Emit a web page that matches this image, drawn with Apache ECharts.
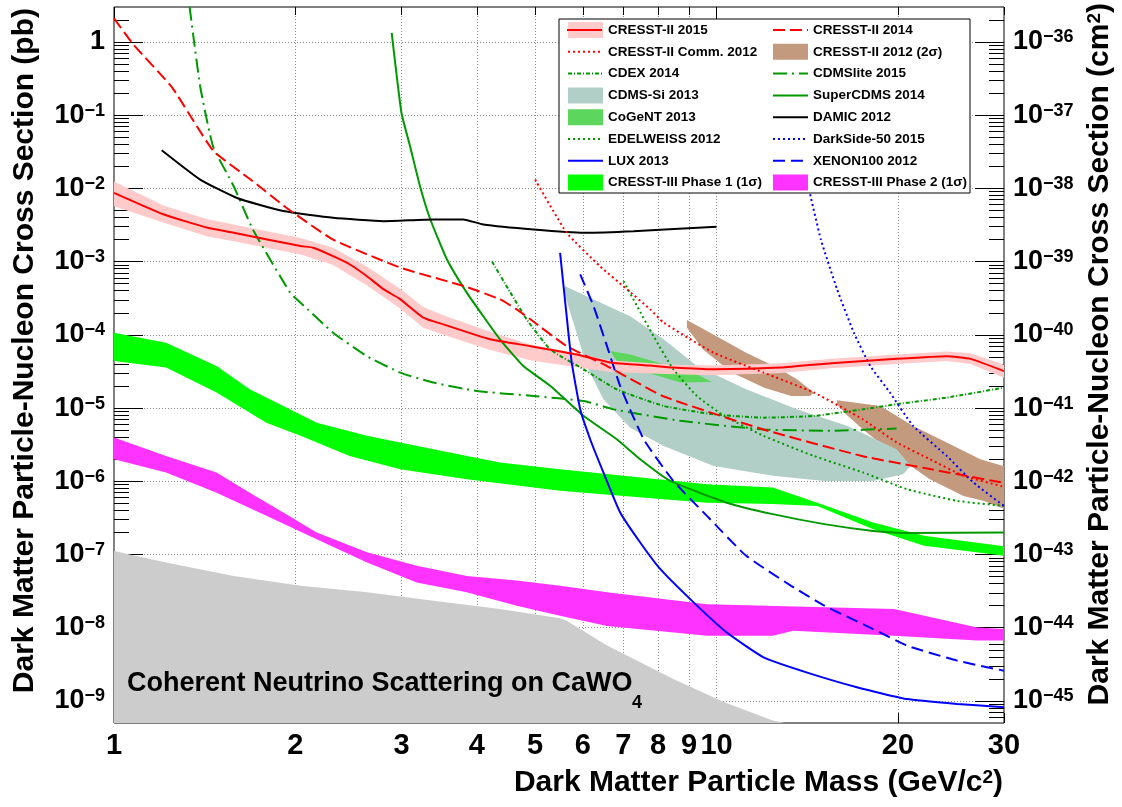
<!DOCTYPE html>
<html><head><meta charset="utf-8">
<script src="https://cdn.jsdelivr.net/npm/echarts/dist/echarts.min.js"></script>
<style>html,body{margin:0;padding:0;background:#fff}#c{width:1122px;height:807px}</style>
</head><body><div id="c"></div>
<script>
// ---------------- tick labels ----------------
const xTickVals = [1, 2, 3, 4, 5, 6, 7, 8, 9, 10, 20, 30];
const xLongTickVals = [1, 10];
const yDecadeExps = [-9, -8, -7, -6, -5, -4, -3, -2, -1, 0];
const yMinorExps = [-10, -9, -8, -7, -6, -5, -4, -3, -2, -1, 0];
const yMinorMantissas = [2, 3, 4, 5, 6, 7, 8, 9];
const pbToCm2Exp = 36;

// ---------------- data (mass GeV/c^2, cross-section pb) ----------------
const cresst2015 = [[1,8.7e-3],[1.21,4.4e-3],[1.43,2.9e-3],[1.58,2.48e-3],[2.04,1.63e-3],[2.14,1.55e-3],[2.31,1.19e-3],[2.46,9.2e-4],[2.63,6.3e-4],[2.80,4.2e-4],[2.98,3.1e-4],[3.26,1.72e-4],[3.52,1.39e-4],[4.21,8.7e-5],[4.91,7.0e-5],[5.86,5.4e-5],[6.66,4.2e-5],[7.76,3.8e-5],[8.48,3.57e-5],[9.9,3.38e-5],[12.8,3.57e-5],[15.5,4.1e-5],[19.9,4.7e-5],[24.1,5.1e-5],[26.4,4.7e-5],[30,3.2e-5]];
const cresst2015Hi = [[1,1.24e-2],[1.21,5.8e-3],[1.43,3.8e-3],[1.58,3.2e-3],[2.04,2.1e-3],[2.31,1.55e-3],[2.63,8.5e-4],[2.98,4.3e-4],[3.26,2.4e-4],[3.52,1.85e-4],[4.21,1.1e-4],[4.91,7.4e-5],[5.86,5.6e-5],[6.66,4.5e-5],[8.48,3.9e-5],[9.9,3.8e-5],[12.8,4.1e-5],[15.5,4.7e-5],[19.9,5.4e-5],[24.1,5.9e-5],[26.4,5.6e-5],[30,3.9e-5]];
const cresst2015Lo = [[1,5.7e-3],[1.21,3.4e-3],[1.43,2.2e-3],[1.58,1.9e-3],[2.04,1.25e-3],[2.31,9.0e-4],[2.63,4.7e-4],[2.98,2.3e-4],[3.26,1.25e-4],[3.52,1.0e-4],[4.21,6.2e-5],[4.91,4.5e-5],[5.86,3.6e-5],[6.66,3.1e-5],[8.48,2.9e-5],[9.9,2.8e-5],[12.8,3.0e-5],[15.5,3.5e-5],[19.9,4.0e-5],[24.1,4.4e-5],[26.4,4.0e-5],[30,2.6e-5]];
const cresst2014 = [[1,2.1],[1.077,0.92],[1.25,0.236],[1.46,0.033],[1.70,0.0125],[1.935,5.4e-3],[2.31,2.0e-3],[2.985,8.3e-4],[3.85,4.5e-4],[4.37,3.05e-4],[4.66,2.23e-4],[4.91,1.63e-4],[5.64,7.0e-5],[6.58,3.75e-5],[8.16,1.45e-5],[11.96,5.1e-6],[17.5,2.2e-6],[22.6,1.47e-6],[30,9.5e-7]];
const cresstComm2012 = [[5.0,1.32e-2],[5.64,2.48e-3],[6.41,8.6e-4],[7.05,4.4e-4],[7.76,2.23e-4],[8.17,1.47e-4],[9.89,5.7e-5],[11.97,3.05e-5],[14.5,1.63e-5],[17.5,7.0e-6],[19.9,3.4e-6],[22.6,2.0e-6],[25.7,1.19e-6],[30,8.4e-7]];
const cresst2012a = [[8.93,1.59e-4],[10.0,9.6e-5],[11.2,5.7e-5],[12.6,3.57e-5],[13.6,2.47e-5],[14.5,1.63e-5],[14.3,1.46e-5],[13.3,1.46e-5],[12.0,1.9e-5],[10.6,3.05e-5],[9.5,6.3e-5],[8.93,1.25e-4]];
const cresst2012b = [[15.85,1.28e-5],[18.7,1.07e-5],[21.2,5.7e-6],[24.1,3.38e-6],[27.4,2.0e-6],[30,1.6e-6],[30,4.2e-7],[27.8,5.4e-7],[25.7,6.3e-7],[22.6,1.07e-6],[19.9,2.2e-6],[17.5,5.1e-6],[16.4,8.2e-6],[15.85,1.13e-5]];
const cdex2014 = [[4.24,1.0e-3],[4.55,3.77e-4],[4.84,1.63e-4],[5.30,6.3e-5],[6.02,3.38e-5],[6.83,1.8e-5],[8.17,1.07e-5],[9.89,8.2e-6],[11.97,7.4e-6],[14.5,7.8e-6],[17.5,9.6e-6],[19.9,1.13e-5],[24.1,1.39e-5],[30,1.9e-5]];
const cdmslite2015 = [[1.335,3.0],[1.39,0.248],[1.46,3.77e-2],[1.58,1.07e-2],[1.70,2.75e-3],[1.96,3.77e-4],[2.04,2.75e-4],[2.31,1.07e-4],[2.63,5.1e-5],[2.985,3.05e-5],[3.39,2.23e-5],[4.00,1.71e-5],[4.97,1.46e-5],[6.02,1.25e-5],[6.75,9.6e-6],[8.71,6.7e-6],[11.97,5.1e-6],[15.45,4.9e-6],[19.9,5.25e-6]];
const cdmsSi2013 = [[5.61,4.6e-4],[6.33,2.9e-4],[7.19,1.8e-4],[8.17,8.7e-5],[9.28,3.75e-5],[11.2,1.8e-5],[13.6,9.6e-6],[16.5,5.7e-6],[19.9,2.74e-6],[21.0,1.62e-6],[20.4,1.25e-6],[18.2,1.01e-6],[15.1,1.01e-6],[12.4,1.19e-6],[9.89,1.62e-6],[8.17,3.04e-6],[7.19,5.4e-6],[6.49,1.32e-5],[6.09,3.75e-5],[5.72,2.0e-4],[5.57,4.2e-4]];
const superCdms2014 = [[2.89,1.33],[3.00,0.107],[3.10,0.0377],[3.22,0.0107],[3.35,3.76e-3],[3.57,1.07e-3],[3.85,3.77e-4],[4.10,1.8e-4],[4.37,8.7e-5],[4.78,3.75e-5],[5.30,2.0e-5],[6.02,7.8e-6],[6.83,3.75e-6],[7.47,2.0e-6],[8.38,1.01e-6],[10.4,5.1e-7],[12.4,3.56e-7],[15.1,2.6e-7],[18.2,2.1e-7],[20.7,1.96e-7],[30,2.0e-7]];
const cogent2013 = [[6.66,6.0e-5],[7.19,5.4e-5],[8.17,3.95e-5],[9.28,2.89e-5],[9.83,2.27e-5],[8.71,2.23e-5],[7.66,3.05e-5],[6.83,4.4e-5]];
const damic2012 = [[1.20,3.32e-2],[1.39,1.32e-2],[1.60,7.4e-3],[1.91,4.9e-3],[2.31,3.97e-3],[2.80,3.57e-3],[3.39,3.77e-3],[3.80,3.77e-3],[4.10,3.22e-3],[4.97,2.75e-3],[6.02,2.48e-3],[7.28,2.6e-3],[10.0,3.0e-3]];
const edelweiss2012 = [[7.01,5.4e-4],[7.38,2.47e-4],[7.86,9.6e-5],[8.48,3.38e-5],[9.28,1.46e-5],[10.3,7.8e-6],[11.97,4.17e-6],[14.5,2.22e-6],[17.5,1.32e-6],[20.7,7.8e-7],[25.1,5.4e-7],[30,4.6e-7]];
const darkside2015 = [[14.3,8.3e-3],[14.9,2.0e-3],[15.85,4.2e-4],[16.9,1.07e-4],[18.0,3.75e-5],[19.4,1.63e-5],[21.2,5.7e-6],[24.1,2.22e-6],[26.7,9.6e-7],[30,4.6e-7]];
const lux2013 = [[5.50,1.32e-3],[5.64,1.8e-4],[5.75,4.2e-5],[5.94,9.6e-6],[6.17,3.75e-6],[6.49,1.32e-6],[6.92,3.75e-7],[7.47,1.46e-7],[8.07,6.3e-8],[9.16,2.22e-8],[10.4,8.6e-9],[11.97,3.94e-9],[14.1,2.46e-9],[17.1,1.54e-9],[20.7,1.06e-9],[25.1,9.1e-10],[30,8.2e-10]];
const xenon2012 = [[5.94,6.7e-4],[6.25,2.47e-4],[6.58,7.0e-5],[6.92,2.0e-5],[7.57,3.75e-6],[8.48,1.01e-6],[9.64,3.37e-7],[11.2,9.6e-8],[13.3,3.74e-8],[15.1,2.0e-8],[18.2,9.6e-9],[20.7,5.7e-9],[25.1,3.55e-9],[30,2.59e-9]];
const phase1Hi = [[1,1.07e-4],[1.22,7.8e-5],[1.48,3.75e-5],[1.68,1.8e-5],[1.91,1.07e-5],[2.17,6.3e-6],[2.63,4.17e-6],[3.39,2.74e-6],[4.37,1.8e-6],[5.50,1.46e-6],[7.01,1.19e-6],[9.64,9.1e-7],[12.4,8.2e-7],[14.7,5.1e-7],[18.2,2.74e-7],[22.1,1.8e-7],[30,1.3e-7]];
const phase1Lo = [[1,4.4e-5],[1.22,3.57e-5],[1.48,1.63e-5],[1.79,6.3e-6],[2.04,4.17e-6],[2.46,2.22e-6],[2.985,1.46e-6],[3.85,1.07e-6],[5.50,7.4e-7],[7.01,6.3e-7],[9.64,5.1e-7],[12.4,4.9e-7],[14.7,4.6e-7],[18.2,2.22e-7],[22.1,1.32e-7],[30,9.6e-8]];
const phase2Hi = [[1,3.96e-6],[1.22,2.22e-6],[1.48,1.32e-6],[1.68,7.0e-7],[1.91,3.75e-7],[2.17,2.0e-7],[2.63,1.07e-7],[3.18,7.0e-8],[3.85,5.1e-8],[4.66,4.4e-8],[5.50,3.74e-8],[6.58,3.04e-8],[9.64,2.1e-8],[19.7,1.8e-8],[27.1,1.01e-8],[30,9.6e-9]];
const phase2Lo = [[1,2.0e-6],[1.22,1.32e-6],[1.48,7.0e-7],[1.79,3.37e-7],[2.17,1.62e-7],[2.63,7.8e-8],[3.18,4.16e-8],[3.85,3.04e-8],[4.66,2.0e-8],[5.50,1.46e-8],[6.58,1.06e-8],[9.64,7.8e-9],[12.4,7.8e-9],[13.4,9.1e-9],[19.7,7.8e-9],[27.1,6.7e-9],[30,6.7e-9]];
const neutrinoFloor = [[1,1.12e-7],[1.22,7.8e-8],[1.58,5.1e-8],[2.04,3.74e-8],[2.63,3.04e-8],[3.39,2.33e-8],[4.37,1.8e-8],[5.50,1.35e-8],[5.64,1.25e-8],[6.58,5.7e-9],[8.48,2.0e-9],[10.3,9.6e-10],[12.4,5.4e-10],[13.0,5e-10],[1,5e-10]];

// ---------------- build ----------------
const FONT = "'Liberation Sans', Arial, Helvetica, sans-serif";
const yMajor = yDecadeExps.map(e => Math.pow(10, e));
const yMinor = [];
yMinorExps.forEach(e => yMinorMantissas.forEach(m => {
  const v = m * Math.pow(10, e);
  if (v > 5.01e-10 && v < 2.99) yMinor.push(v);
}));
const Y_MIN = 5e-10, Y_MAX = 3, X_MIN = 1, X_MAX = 30;

function polygon(name, pts, color) {
  return {
    type: 'custom', name, coordinateSystem: 'cartesian2d', xAxisIndex: 0, yAxisIndex: 0,
    data: pts, silent: true, clip: true, itemStyle: { color },
    encode: { x: 0, y: 1 },
    renderItem: (params, api) => {
      if (params.dataIndex !== 0) return;
      return { type: 'polygon', shape: { points: pts.map(p => api.coord(p)) }, style: { fill: color } };
    }
  };
}
function band(name, hi, lo, color) { return polygon(name, hi.concat(lo.slice().reverse()), color); }
function line(name, pts, color, type, width) {
  return { type: 'line', name, data: pts, symbol: 'none', showSymbol: false, smooth: 0.15, silent: true, clip: true,
    lineStyle: { color, width: width || 2, type: type || 'solid' }, itemStyle: { color } };
}
const RED = '#ff0000', GREEN = '#009900', BLUE = '#0000ff';
const series = [
  polygon('Neutrino', neutrinoFloor, '#cccccc'),
  polygon('CRESST-II 2012 (2σ)', cresst2012a, '#c49a7e'),
  polygon('CRESST-II 2012 (2σ)', cresst2012b, '#c49a7e'),
  polygon('CDMS-Si 2013', cdmsSi2013, '#b2cfc7'),
  polygon('CoGeNT 2013', cogent2013, '#5cd65c'),
  band('CRESST-II 2015', cresst2015Hi, cresst2015Lo, '#ffcaca'),
  line('CDMSlite 2015', cdmslite2015, GREEN, [14, 5, 2, 5]),
  line('CDEX 2014', cdex2014, GREEN, [4, 2, 1, 2]),
  line('SuperCDMS 2014', superCdms2014, GREEN, 'solid'),
  line('DAMIC 2012', damic2012, '#000000', 'solid'),
  line('EDELWEISS 2012', edelweiss2012, GREEN, [2, 3]),
  line('CRESST-II Comm. 2012', cresstComm2012, RED, [2, 3]),
  line('CRESST-II 2014', cresst2014, RED, [12, 5]),
  band('CRESST-III Phase 1 (1σ)', phase1Hi, phase1Lo, '#00ff00'),
  line('LUX 2013', lux2013, BLUE, 'solid'),
  line('XENON100 2012', xenon2012, BLUE, [12, 6]),
  line('DarkSide-50 2015', darkside2015, BLUE, [2, 3]),
  band('CRESST-III Phase 2 (1σ)', phase2Hi, phase2Lo, '#ff33ff'),
  line('CRESST-II 2015', cresst2015, RED, 'solid')
];

const labRich = {
  b: { fontSize: 27, fontWeight: 'bold', fontFamily: FONT, color: '#000' },
  s: { fontSize: 18, fontWeight: 'bold', fontFamily: FONT, color: '#000', verticalAlign: 'top' }
};
const expOf = v => Math.round(Math.log10(v));
function xAxisDef(pos, vals, len, labels, split) {
  return { type: 'log', logBase: 10, min: X_MIN, max: X_MAX, position: pos, gridIndex: 0,
    axisLine: { show: false, onZero: false },
    axisTick: { show: true, inside: true, length: len, customValues: vals, lineStyle: { color: '#000', width: 1 } },
    axisLabel: labels ? { show: true, customValues: vals, formatter: v => String(Math.round(v)), fontSize: 29,
      fontWeight: 'bold', fontFamily: FONT, color: '#000', margin: 8 } : { show: false },
    splitLine: { show: !!split, lineStyle: { color: '#8a8a8a', width: 1, type: [1, 2] } },
    minorTick: { show: false }, minorSplitLine: { show: false } };
}
function yAxisDef(pos, vals, len, fmt, split) {
  return { type: 'log', logBase: 10, min: Y_MIN, max: Y_MAX, position: pos, gridIndex: 0,
    axisLine: { show: false, onZero: false },
    axisTick: { show: true, inside: true, length: len, customValues: vals, lineStyle: { color: '#000', width: 1 } },
    axisLabel: fmt ? { show: true, customValues: vals, formatter: fmt, rich: labRich, margin: 9 } : { show: false },
    splitLine: { show: !!split, lineStyle: { color: '#8a8a8a', width: 1, type: [1, 2] } },
    minorTick: { show: false }, minorSplitLine: { show: false } };
}
const leftFmt = v => { const e = expOf(v); return e === 0 ? '{b|1}' : '{b|10}{s|−' + (-e) + '}'; };
const rightFmt = v => { const e = expOf(v); return '{b|10}{s|−' + (pbToCm2Exp - e) + '}'; };

const legendText = { fontSize: 13.5, fontWeight: 'bold', fontFamily: FONT, color: '#000', lineHeight: 16 };
const lineItem = n => ({ name: n, itemStyle: { opacity: 0 } });
const boxItem = n => ({ name: n, icon: 'rect' });
const legendCommon = { orient: 'vertical', top: 22, itemWidth: 35, itemHeight: 16, itemGap: 5.8, padding: 0,
  selectedMode: false, textStyle: legendText, z: 20 };

const option = {
  animation: false,
  backgroundColor: '#ffffff',
  grid: { left: 114, top: 7, width: 890, height: 716, show: true, borderColor: '#000', borderWidth: 1, backgroundColor: 'transparent' },
  xAxis: [
    xAxisDef('bottom', xTickVals, 10, true, true),
    xAxisDef('bottom', xLongTickVals, 20, false, false),
    xAxisDef('top', xTickVals, 8, false, false),
    xAxisDef('top', xLongTickVals, 12, false, false)
  ],
  yAxis: [
    yAxisDef('left', yMajor, 29, leftFmt, true),
    yAxisDef('left', yMinor, 15, null, false),
    yAxisDef('right', yMajor, 29, rightFmt, false),
    yAxisDef('right', yMinor, 15, null, false)
  ],
  legend: [
    Object.assign({ left: 567, data: [boxItem('CRESST-II 2015'), lineItem('CRESST-II Comm. 2012'), lineItem('CDEX 2014'),
      boxItem('CDMS-Si 2013'), boxItem('CoGeNT 2013'), lineItem('EDELWEISS 2012'), lineItem('LUX 2013'), boxItem('CRESST-III Phase 1 (1σ)')] }, legendCommon),
    Object.assign({ left: 772, data: [lineItem('CRESST-II 2014'), boxItem('CRESST-II 2012 (2σ)'), lineItem('CDMSlite 2015'),
      lineItem('SuperCDMS 2014'), lineItem('DAMIC 2012'), lineItem('DarkSide-50 2015'), lineItem('XENON100 2012'), boxItem('CRESST-III Phase 2 (1σ)')] }, legendCommon)
  ],
  graphic: [
    { type: 'rect', z: 15, silent: true, shape: { x: 559, y: 19, width: 411, height: 174 }, style: { fill: '#fff', stroke: '#000', lineWidth: 1 } },
    { type: 'line', z: 25, silent: true, shape: { x1: 567, y1: 30, x2: 602, y2: 30 }, style: { stroke: RED, lineWidth: 2 } },
    { type: 'text', z: 30, silent: true, x: 127, y: 684, style: { text: 'Coherent Neutrino Scattering on CaWO', font: 'bold 27px ' + FONT, fill: '#000', align: 'left', verticalAlign: 'middle', textAlign: 'left', textVerticalAlign: 'middle' } },
    { type: 'text', z: 30, silent: true, x: 632, y: 703, style: { text: '4', font: 'bold 18px ' + FONT, fill: '#000', align: 'left', verticalAlign: 'middle', textAlign: 'left', textVerticalAlign: 'middle' } },
    { type: 'text', z: 30, silent: true, x: 1003, y: 783, style: { text: '{t|Dark Matter Particle Mass (GeV/c}{s|2}{t|)}', align: 'right', verticalAlign: 'middle', textAlign: 'right', textVerticalAlign: 'middle',
      rich: { t: { font: 'bold 30px ' + FONT, fill: '#000', color: '#000' }, s: { font: 'bold 19px ' + FONT, fill: '#000', color: '#000', verticalAlign: 'top' } } } },
    { type: 'text', z: 30, silent: true, x: 25, y: 8, rotation: Math.PI / 2, style: { text: 'Dark Matter Particle-Nucleon Cross Section (pb)', font: 'bold 30px ' + FONT, fill: '#000', align: 'right', verticalAlign: 'middle', textAlign: 'right', textVerticalAlign: 'middle' } },
    { type: 'text', z: 30, silent: true, x: 1100, y: 3, rotation: Math.PI / 2, style: { text: '{t|Dark Matter Particle-Nucleon Cross Section (cm}{s|2}{t|)}', align: 'right', verticalAlign: 'middle', textAlign: 'right', textVerticalAlign: 'middle',
      rich: { t: { font: 'bold 30px ' + FONT, fill: '#000', color: '#000' }, s: { font: 'bold 19px ' + FONT, fill: '#000', color: '#000', verticalAlign: 'top' } } } }
  ],
  series
};
const chart = echarts.init(document.getElementById('c'), null, { renderer: 'canvas' });
chart.setOption(option);
</script>
</body></html>
